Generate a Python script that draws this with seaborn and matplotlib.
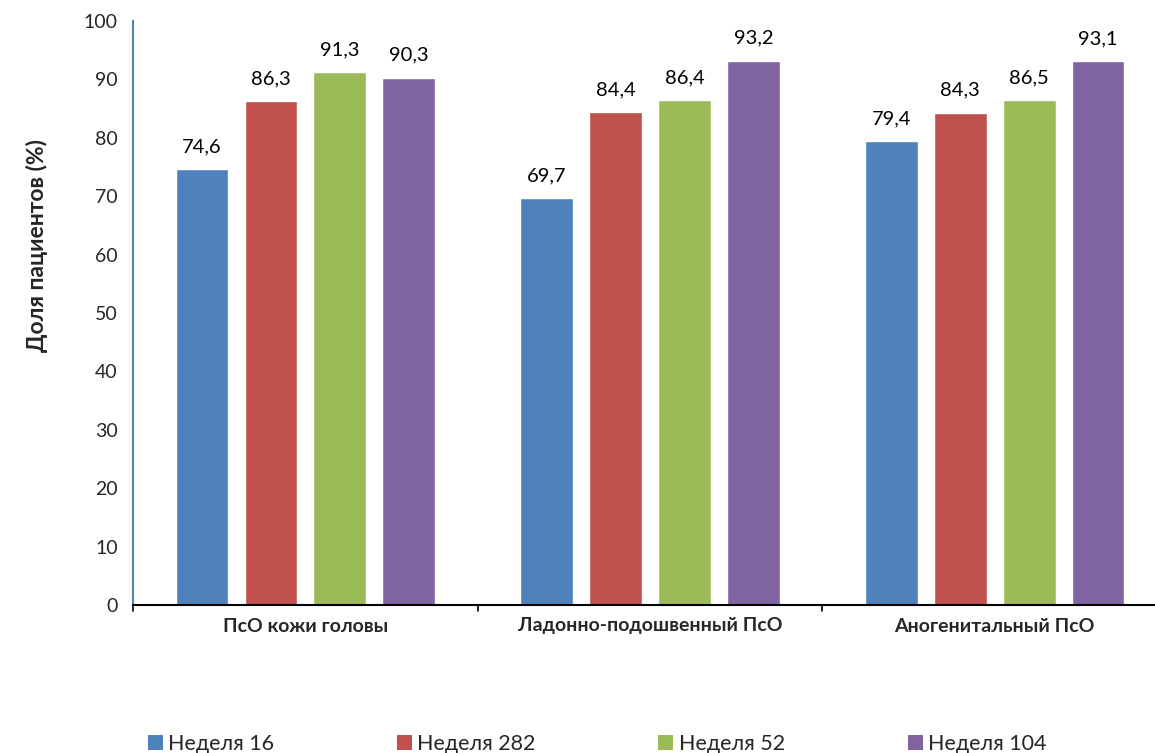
import matplotlib
matplotlib.use("Agg")
import matplotlib.pyplot as plt
from matplotlib.patches import Patch
import seaborn as sns
import pandas as pd

# Categories and series
categories = ["ПсО кожи головы", "Ладонно-подошвенный ПсО", "Аногенитальный ПсО"]
series = ["Неделя 16", "Неделя 282", "Неделя 52", "Неделя 104"]
week16 = [74.6, 69.7, 79.4]
week282 = [86.3, 84.4, 84.3]
week52 = [91.3, 86.4, 86.5]
week104 = [90.3, 93.2, 93.1]
colors = ["#4F81BD", "#C0504D", "#9BBB59", "#8064A2"]
y_ticks = [0, 10, 20, 30, 40, 50, 60, 70, 80, 90, 100]

rows = []
for name, vals in zip(series, [week16, week282, week52, week104]):
    for cat, v in zip(categories, vals):
        rows.append({"cat": cat, "series": name, "value": v})
df = pd.DataFrame(rows)

sns.set_theme(style="white")
plt.rcParams["font.family"] = ["Lato", "DejaVu Sans"]

fig = plt.figure(figsize=(11.55, 7.53), dpi=100)
ax = fig.add_axes([133 / 1155, (753 - 605) / 753, (1155 - 133) / 1155, (605 - 21) / 753])

sns.barplot(data=df, x="cat", y="value", hue="series", order=categories,
            hue_order=series, palette=colors, width=0.8, gap=0.235,
            saturation=1, legend=False, ax=ax, errorbar=None)

# value labels with decimal comma
for container in ax.containers:
    for bar in container:
        h = bar.get_height()
        ax.annotate(f"{h:.1f}".replace(".", ","),
                    (bar.get_x() + bar.get_width() / 2, h),
                    xytext=(0, 10), textcoords="offset points",
                    ha="center", va="bottom", fontsize=14.5, color="#000000")

ax.set_ylim(0, 100)
ax.set_xlim(-0.5, 2.465)
ax.set_yticks(y_ticks)
ax.set_yticklabels([str(t) for t in y_ticks], fontsize=14)
ax.set_xticks(range(len(categories)))
ax.set_xticklabels(categories, fontsize=14, fontweight="bold")
ax.tick_params(axis="x", length=0, pad=9)
ax.tick_params(axis="y", length=6, width=1.2, color="#4F81BD", direction="out", pad=5)
ax.set_xlabel("")
ax.set_ylabel("Доля пациентов (%)", fontsize=16.5, fontweight="bold")
ax.yaxis.set_label_coords(-0.083, 0.615)

for side in ["top", "right"]:
    ax.spines[side].set_visible(False)
ax.spines["left"].set_color("#4F81BD")
ax.spines["left"].set_linewidth(1.5)
ax.spines["bottom"].set_color("#000000")
ax.spines["bottom"].set_linewidth(1.5)

# category boundary ticks on the category axis
for b in [-0.5, 0.5, 1.5]:
    ax.plot([b, b], [0, -1.1], color="#000000", lw=1.2, clip_on=False)

handles = [Patch(facecolor=c, edgecolor="none") for c in colors]
fig.legend(handles, series, loc="lower left", bbox_to_anchor=(0.111, -0.027),
           ncol=4, frameon=False, fontsize=15.5, handlelength=0.7,
           handleheight=0.7, handletextpad=0.25, columnspacing=5.7)

fig.savefig("out.png", dpi=100)
